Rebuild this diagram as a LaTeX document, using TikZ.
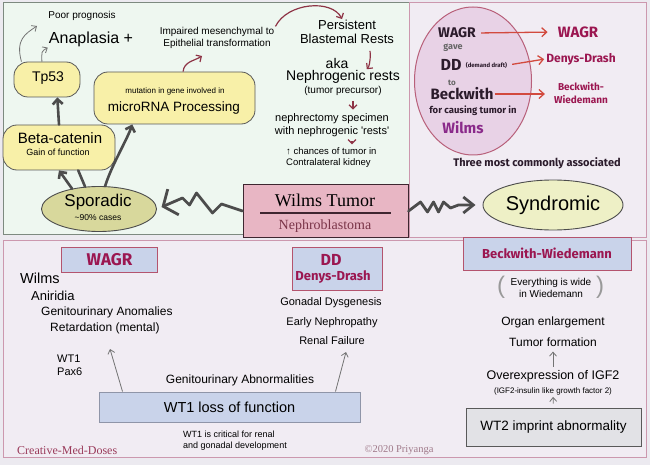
\documentclass[tikz,border=0pt]{standalone}
\usepackage{fontspec}
\setmainfont{Liberation Sans}
\newfontfamily\serif{Liberation Serif}
\newfontfamily\hand{Fira Sans}
\usetikzlibrary{arrows.meta,shapes.geometric,positioning}

\definecolor{bgcol}{HTML}{ECEAF0}
\definecolor{mint}{HTML}{EEF7F0}
\definecolor{greenline}{HTML}{7D8A80}
\definecolor{lav}{HTML}{F1ECF3}
\definecolor{pinkline}{HTML}{CC98AE}
\definecolor{blobyel}{HTML}{F8F0A8}
\definecolor{sporfill}{HTML}{D8D89C}
\definecolor{synfill}{HTML}{EEF0C6}
\definecolor{ellfill}{HTML}{E8D2E6}
\definecolor{ellline}{HTML}{B8607A}
\definecolor{wilmsfill}{HTML}{E8B6C4}
\definecolor{wilmsline}{HTML}{3E2630}
\definecolor{nephbrown}{HTML}{7A3448}
\definecolor{crim}{HTML}{9B1650}
\definecolor{darkhw}{HTML}{2B1B2B}
\definecolor{purp}{HTML}{8A2A8A}
\definecolor{arrred}{HTML}{D24A3E}
\definecolor{arrbrown}{HTML}{8E3446}
\definecolor{boxblue}{HTML}{C9D3EA}
\definecolor{boxpink}{HTML}{B4546E}
\definecolor{boxgrey}{HTML}{8F95A8}
\definecolor{wtfill}{HTML}{E2E2E6}
\definecolor{credit}{HTML}{9A3A5A}
\definecolor{creditb}{HTML}{A07A8A}

\newcommand\fsz[2]{\fontsize{#1}{#2}\selectfont}
\newcommand\hwf[1]{\hand\bfseries\fontsize{#1}{#1}\selectfont}

\tikzset{
  every node/.style={inner sep=1pt},
  blob/.style={draw=black!65, fill=blobyel, rounded corners=14pt, line width=.8pt},
  thickline/.style={draw=black!70, line width=2.6pt, line cap=round},
  thickarr/.style={thickline, -{Straight Barb[length=5pt,width=10pt]}},
  zig/.style={draw=black!70, line width=2.8pt, line join=round, line cap=round},
  redarr/.style={draw=arrred, line width=1.3pt, -{Straight Barb[length=5pt,width=9pt]}},
  brarr/.style={draw=arrbrown, line width=1.2pt, -{Straight Barb[length=4pt,width=8pt]}},
  greyarr/.style={draw=black!55, line width=.8pt, -{Straight Barb[length=4pt,width=7pt]}},
  bbox/.style={fill=boxblue, line width=1pt},
  hwd/.style={text=darkhw},
}

\begin{document}
\begin{tikzpicture}[x=1pt,y=-1pt]
\useasboundingbox (0,0) rectangle (650,465);
%%% background and panels
	\fill[bgcol] (0,0) rectangle (650,465);
	\draw[line width=1pt, draw=greenline, fill=mint] (3,3) rectangle (409,234);
	\draw[line width=1pt, draw=pinkline, fill=lav] (409,3) rectangle (646,237);
	\draw[line width=1pt, draw=pinkline, fill=lav] (3,240) rectangle (646,457);
%%% sporadic side: ellipse and blobs
	\node[ellipse, draw=black!70, fill=sporfill, line width=.9pt, minimum width=115pt, minimum height=45pt] (spor) at (99,209) {};
	\node[font=\fsz{17}{18}] (sporT) at (98,202) {Sporadic};
	\node[font=\fsz{8.5}{10}] (sporN) at (98,218) {\textasciitilde 90\% cases};
	\node[blob, minimum width=66pt, minimum height=35pt] (tp) at (47,79.5) {};
	\node[font=\fsz{14}{16}] (tpT) at (48,78) {Tp53};
	\node[blob, minimum width=112pt, minimum height=45pt] (beta) at (59,147.5) {};
	\node[font=\fsz{15}{16}] (betaT) at (60,138) {Beta-catenin};
	\node[font=\fsz{9}{10}] (betaN) at (58,152) {Gain of function};
	\node[blob, minimum width=161pt, minimum height=52pt] (micro) at (174.5,98) {};
	\node[font=\fsz{8}{9}] (microN) at (175,91) {mutation in gene involved in};
	\node[font=\fsz{13.5}{15}] (microT) at (174,108) {microRNA Processing};
	\draw[thickarr] (spor.143) -- (beta.south);
	\draw[thickline] (spor.122) -- (beta.-50);
	\draw[thickarr] (spor.75) .. controls +(6,-20) and +(-5,15) .. (micro.-148);
	\draw[thickarr] (beta.north) -- (tp.-60);
%%% prognosis
	\node[font=\fsz{10}{12}] (poor) at (82,16) {Poor prognosis};
	\node[font=\fsz{16}{18}] (ana) at (91,39) {Anaplasia +};
	\coordinate (poortip) at (37,26);
	\draw[greyarr] (tp.145) .. controls +(-6,-22) and +(-12,8) .. (poortip);
	\draw[greyarr] (tp.106) .. controls +(0,-10) and +(-7,4) .. (ana.south west);
%%% rests
	\node[font=\fsz{10}{11.5}, align=center] (imp) at (217,38) {Impaired mesenchymal to\\Epithelial transformation};
	\coordinate (imptip) at (202,56);
	\draw[brarr] (micro.72) .. controls +(1,-10) and +(-8,5) .. (imptip);
	\node[font=\fsz{13}{15}] (persA) at (347,25) {Persistent};
	\node[font=\fsz{13}{15}] (persB) at (347,39) {Blastemal Rests};
	\draw[brarr] (imp.north east) .. controls +(12,-24) and +(-10,-20) .. (persA.130);
	\node[font=\fsz{14}{16}] (aka) at (337,63) {aka};
	\node[font=\fsz{14}{16}] (neph) at (343,77) {Nephrogenic rests};
	\draw[brarr, shorten <=6pt] (persB.-15) .. controls +(1,8) and +(4,-5) .. (neph.18);
	\node[font=\fsz{10}{12}] (prec) at (343,91) {(tumor precursor)};
	\node[font=\fsz{11}{13}, align=center] (nephr) at (332,125.5) {nephrectomy specimen\\with nephrogenic \textquotesingle rests\textquotesingle};
	\draw[brarr, shorten <=4pt, shorten >=3pt] ([xshift=10pt]prec.south) -- ([xshift=10pt]prec.south |- nephr.north);
	\node[anchor=west, align=left, font=\fsz{9.5}{11}] (chance) at (285,157.5) {↑ chances of tumor in\\Contralateral kidney};
	\draw[brarr, shorten <=3pt, shorten >=2pt] ([xshift=20pt]nephr.south) -- ([xshift=20pt]nephr.south |- chance.north);
%%% Wilms tumor in the middle
	\node[draw=wilmsline, fill=wilmsfill, line width=1pt, minimum width=165pt, minimum height=52pt] (wilms) at (325.5,211) {};
	\node[font=\serif\fsz{18}{20}] (wilmsT) at (325,200) {Wilms Tumor};
	\draw[line width=1.5pt, wilmsline] (260,213) -- (391,213);
	\node[font=\serif\fsz{14}{16}, text=nephbrown] (nephB) at (325,226) {Nephroblastoma};
	\node[ellipse, draw=black!70, fill=synfill, line width=.9pt, minimum width=140pt, minimum height=50pt, font=\fsz{20}{22}] (syn) at (553,205) {Syndromic};
	\draw[zig, shorten >=5pt, -{Straight Barb[length=11pt,width=28pt]}] (wilms.west) -- ++(-21,-7) -- ++(-9,9) -- ++(-16,-20) -- ++(-7,12) -- ++(-7,-7) -- (spor.east);
	\draw[zig, shorten >=7pt, -{Straight Barb[length=10pt,width=16pt]}] (wilms.east) -- ++(12,-9) -- ++(7,10) -- ++(6,-10) -- ++(5,10) -- ++(5,-10) -- ++(7,6) -- ++(8,-3) -- (syn.west);
%%% mnemonic
	\node[ellipse, draw=ellline, fill=ellfill, line width=1pt, minimum width=117pt, minimum height=148pt] (mnem) at (473,81) {};
	\node[hwd, font=\hwf{14}] (mWAGR) at (457,33) {WAGR};
	\node[text=black!60, font=\hwf{9}] (mgave) at (453,48) {gave};
	\node[hwd, font=\hwf{16}] (mDD) at (451,65) {DD};
	\node[hwd, font=\hwf{6}, right=2pt of mDD] (mdraft) {(demand draft)};
	\node[text=black!60, font=\hwf{8}] (mto) at (452,83) {to};
	\node[hwd, font=\hwf{15}] (mBeck) at (462,94) {Beckwith};
	\node[hwd, font=\hwf{9.5}] (mcause) at (473,111) {for causing tumor in};
	\node[text=purp, font=\hwf{15}] (mWilms) at (463,128) {Wilms};
	\node[text=crim, font=\hwf{15}] (rWAGR) at (578,32) {WAGR};
	\node[text=crim, font=\hwf{12}] (rDD) at (581,59) {Denys-Drash};
	\node[text=crim, font=\hwf{10}, align=center, text height=8pt] (rBeck) at (581,100) {Beckwith-\\[3pt]Wiedemann};
	\draw[redarr, shorten <=4pt, shorten >=9pt] (mWAGR.east) -- (rWAGR.west);
	\draw[redarr, shorten <=4pt, shorten >=1pt] (mdraft.east) -- (rDD.west);
	\draw[redarr, shorten >=8pt] (mBeck.east) -- (rBeck.west |- mBeck.east);
	\node[hwd, font=\hwf{11}] (three) at (537,163) {Three most commonly associated};
%%% WAGR
	\node[bbox, draw=boxpink, minimum width=96pt, minimum height=25pt, font=\hwf{17}, text=crim] (bWAGR) at (109.5,260) {WAGR};
	\node[anchor=west, font=\fsz{14.5}{16}] (lW) at (19,278) {Wilms};
	\node[anchor=west, font=\fsz{13}{15}] (lA) at (30,296) {Aniridia};
	\node[anchor=west, font=\fsz{12}{14}] (lG) at (40,312) {Genitourinary Anomalies};
	\node[anchor=west, font=\fsz{12}{14}] (lR) at (49,328) {Retardation (mental)};
	\node[anchor=west, align=left, font=\fsz{11}{13}] (wtpax) at (56,365.5) {WT1\\Pax6};
	\node[font=\fsz{12}{14}] (gab) at (240,380) {Genitourinary Abnormalities};
	\node[bbox, draw=boxgrey, minimum width=261pt, minimum height=30pt, font=\fsz{14.5}{16}] (wt1) at (229.5,407) {WT1 loss of function};
	\node[anchor=west, align=left, font=\fsz{9}{11}] (crit) at (182,440.5) {WT1 is critical for renal\\and gonadal development};
	\node[anchor=west, font=\serif\fsz{12}{14}, text=credit] (cmd) at (16,450) {Creative-Med-Doses};
	\coordinate (wagrtip) at (110,349);
	\draw[greyarr] ([xshift=24pt]wt1.north west) -- (wagrtip);
%%% Denys-Drash
	\node[bbox, draw=boxpink, minimum width=90pt, minimum height=43pt] (bDD) at (337,268.5) {};
	\node[text=crim, font=\hwf{16}] (bDDa) at (331,260) {DD};
	\node[text=crim, font=\hwf{13}] (bDDb) at (333,277) {Denys-Drash};
	\node[font=\fsz{11}{13}] (gon) at (331,303) {Gonadal Dysgenesis};
	\node[font=\fsz{11}{13}] (early) at (332,323) {Early Nephropathy};
	\node[font=\fsz{11}{13}] (renal) at (332,341) {Renal Failure};
	\coordinate (ddtip) at (346,352);
	\draw[greyarr] ([xshift=-25pt]wt1.north east) -- (ddtip);
	\node[font=\serif\fsz{10.5}{12}, text=creditb] (copy) at (399,450) {©2020 Priyanga};
%%% Beckwith-Wiedemann
	\node[bbox, draw=boxpink, minimum width=168pt, minimum height=33pt, font=\hwf{13}, text=crim] (bBW) at (547,253.5) {Beckwith-Wiedemann};
	\node[align=center, font=\fsz{10}{12}] (wide) at (551,288) {Everything is wide\\in Wiedemann};
	\node[font=\fsz{24}{26}, text=black!40] (lpar) at (501,287) {(};
	\node[font=\fsz{24}{26}, text=black!40] (rpar) at (600,287) {)};
	\node[font=\fsz{12}{14}] (organ) at (553,322) {Organ enlargement};
	\node[font=\fsz{12}{14}] (tumf) at (553,342) {Tumor formation};
	\node[font=\fsz{12.5}{14}] (over) at (553,376) {Overexpression of IGF2};
	\node[font=\fsz{8}{10}] (igf) at (553,391) {(IGF2-insulin like growth factor 2)};
	\node[draw=black!65, fill=wtfill, line width=1pt, minimum width=175pt, minimum height=38pt, font=\fsz{13.5}{15}] (wt2) at (553.5,427) {WT2 imprint abnormality};
	\draw[greyarr, shorten <=2pt, shorten >=4pt] (over.north) -- (tumf.south);
	\draw[greyarr, shorten <=4pt, shorten >=1pt] (wt2.north) -- (igf.south);
\end{tikzpicture}
\end{document}
